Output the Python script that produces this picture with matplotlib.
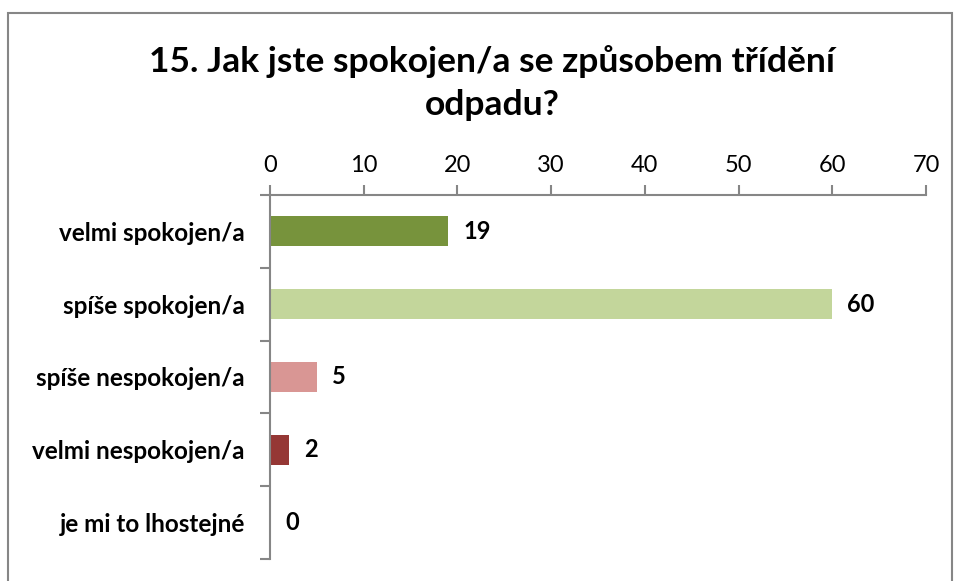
import matplotlib.pyplot as plt
from matplotlib.patches import Rectangle

categories = ['velmi spokojen/a', 'spíše spokojen/a', 'spíše nespokojen/a',
              'velmi nespokojen/a', 'je mi to lhostejné']
values = [19, 60, 5, 2, 0]
colors = ['#77933C', '#C3D69B', '#D99694', '#953735', '#4F81BD']
xticks = [0, 10, 20, 30, 40, 50, 60, 70]
title = '15. Jak jste spokojen/a se způsobem třídění\nodpadu?'

plt.rcParams['font.family'] = ['Lato', 'DejaVu Sans']
axis_grey = '#868686'

fig = plt.figure(figsize=(9.6, 5.81), dpi=100)
ax = fig.add_axes([270 / 960, 1 - 559 / 581, (926 - 270) / 960, (559 - 195) / 581])

# ramecek kolem grafu
fig.patches.append(Rectangle((8 / 960, -0.01), (952 - 8) / 960, 1 - 13 / 581 + 0.01,
                             transform=fig.transFigure, fill=False,
                             edgecolor=axis_grey, linewidth=1.5))

y = list(range(len(categories)))
ax.barh(y, values, height=0.41, color=colors)

for yi, v in zip(y, values):
    ax.text(v + 1.6, yi, str(v), va='center', ha='left',
            fontsize=17, fontweight='bold')

ax.set_xlim(0, 70)
ax.set_ylim(len(categories) - 0.5, -0.5)
ax.set_xticks(xticks)
ax.xaxis.tick_top()
ax.tick_params(axis='x', length=7, width=1.5, color=axis_grey,
               labelsize=17, pad=7)
ax.set_yticks([i - 0.5 for i in range(len(categories) + 1)], minor=False)
ax.set_yticklabels([])
ax.set_yticks(y, minor=True)
ax.set_yticklabels(categories, minor=True, fontsize=17.5, fontweight='bold')
ax.tick_params(axis='y', which='major', length=7, width=1.5, color=axis_grey)
ax.tick_params(axis='y', which='minor', length=0, pad=18)

for side in ['right', 'bottom']:
    ax.spines[side].set_visible(False)
for side in ['top', 'left']:
    ax.spines[side].set_color(axis_grey)
    ax.spines[side].set_linewidth(1.5)

fig.text(492 / 960, 1 - 83 / 581, title, ha='center', va='center',
         fontsize=25.5, fontweight='bold', linespacing=1.4)

fig.savefig('out.png', dpi=100)
